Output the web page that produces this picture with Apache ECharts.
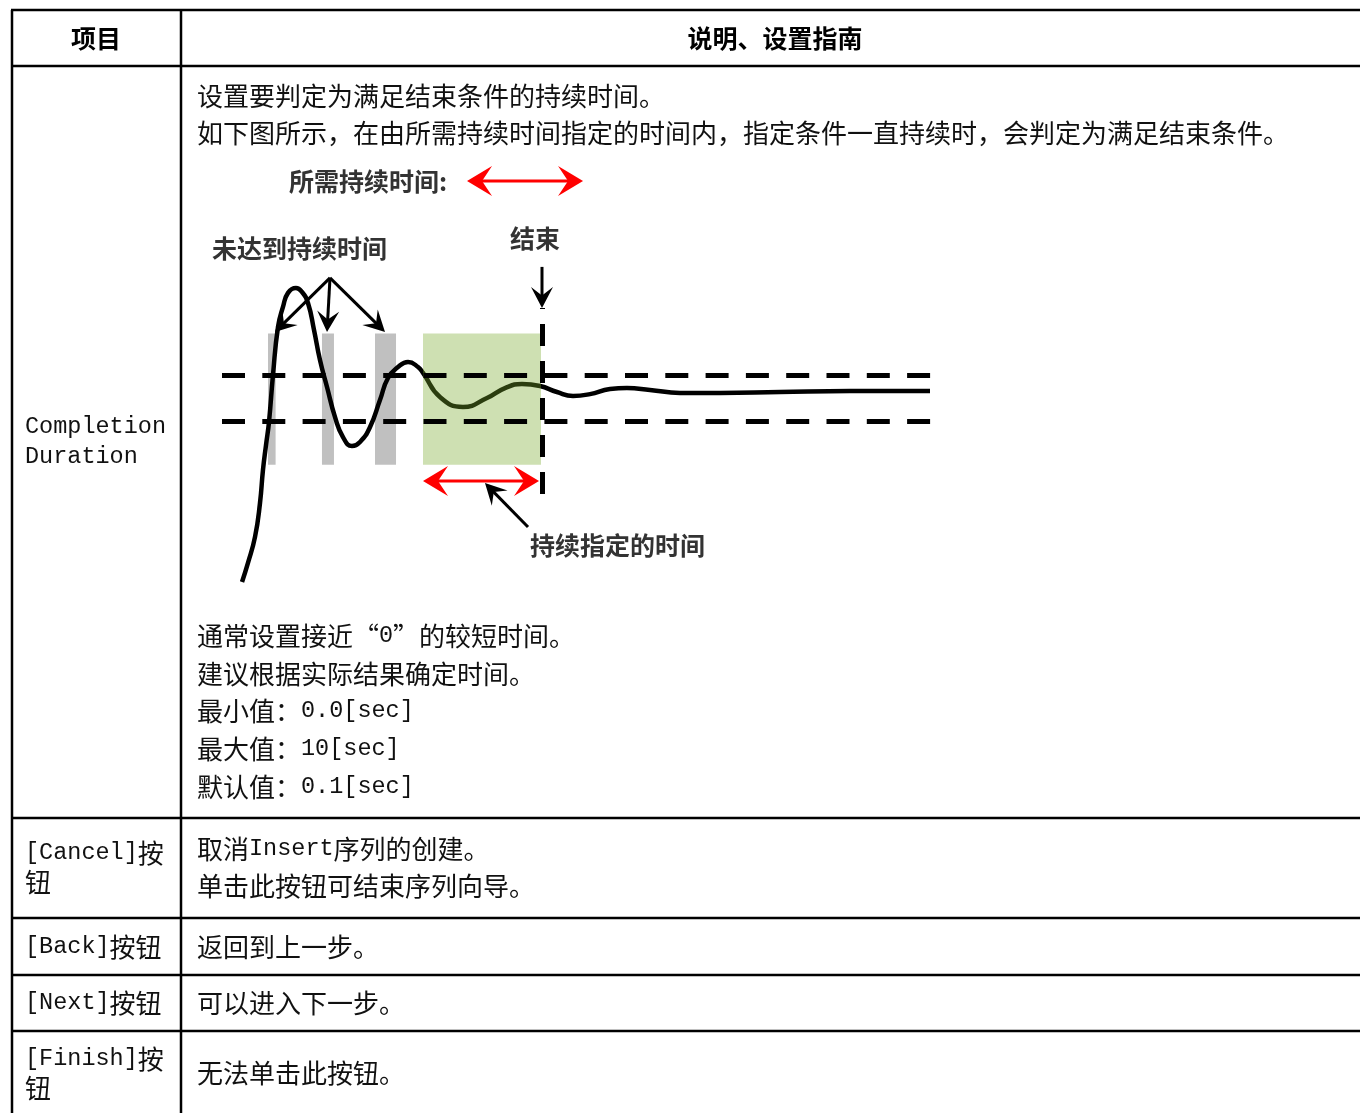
<!DOCTYPE html>
<html><head><meta charset="utf-8">
<script src="https://cdn.jsdelivr.net/npm/echarts/dist/echarts.min.js"></script>
<style>html,body{margin:0;padding:0;background:#fff}#c{width:1360px;height:1113px}</style>
</head><body><div id="c"></div>
<script>
// ---------- table text ----------
const headerCols = ['项目', '说明、设置指南'];
const itemNames = [['Completion', 'Duration'], ['[Cancel]按', '钮'], ['[Back]按钮'], ['[Next]按钮'], ['[Finish]按', '钮']];
const descTop = ['设置要判定为满足结束条件的持续时间。', '如下图所示，在由所需持续时间指定的时间内，指定条件一直持续时，会判定为满足结束条件。'];
const descBottom = ['通常设置接近“0”的较短时间。', '建议根据实际结果确定时间。', '最小值：0.0[sec]', '最大值：10[sec]', '默认值：0.1[sec]'];
const descCancel = ['取消Insert序列的创建。', '单击此按钮可结束序列向导。'];
const descBack = ['返回到上一步。'];
const descNext = ['可以进入下一步。'];
const descFinish = ['无法单击此按钮。'];
const diagramLabels = ['所需持续时间:', '未达到持续时间', '结束', '持续指定的时间'];

// ---------- diagram data (time units, signal units; target = 1.0) ----------
const curveT = [2.82, 3.66, 4.65, 5.35, 5.77, 6.20, 6.62, 7.18, 7.89, 8.59, 9.30, 10.42, 11.27, 12.11, 12.96, 13.80, 14.79, 15.92, 17.04, 18.31, 19.44, 20.85, 22.25, 23.38, 24.79, 26.20, 27.61, 28.31, 30.70, 33.94, 37.32, 39.86, 42.25, 44.79, 47.18, 49.44, 51.83, 54.65, 57.04, 60.28, 64.51, 70.14, 78.59, 88.45, 99.72];
const curveV = [0.200, 0.283, 0.396, 0.543, 0.687, 0.796, 0.896, 1.100, 1.309, 1.396, 1.457, 1.478, 1.461, 1.413, 1.296, 1.165, 1.048, 0.917, 0.830, 0.791, 0.809, 0.874, 0.991, 1.087, 1.135, 1.157, 1.135, 1.109, 1.004, 0.961, 1.000, 1.043, 1.061, 1.052, 1.026, 1.009, 1.017, 1.039, 1.043, 1.035, 1.022, 1.022, 1.026, 1.030, 1.030];
const bandLevels = [1.10, 0.90];
const shadeRangeV = [0.71, 1.28];
const notReachedSpans = [[6.48, 7.55], [14.08, 15.77], [21.55, 24.51]];
const holdSpan = [28.31, 44.93];
const endTime = 45.07;
const endLineV = [0.583, 1.391];
const redArrows = [[34.51, 1.943, 50.85, 1.943], [28.31, 0.639, 44.65, 0.639]];
const blackArrows = [[15.21, 1.522, 7.46, 1.287], [15.21, 1.522, 14.79, 1.287], [15.21, 1.522, 22.96, 1.287], [45.07, 1.570, 45.07, 1.391], [43.10, 0.439, 37.04, 0.630]];

// ---------- helpers ----------
const CJK = 'Noto Sans CJK SC';
function richStr(s) {
  let out = '', cur = null, buf = '';
  for (const ch of s) {
    const t = ch.charCodeAt(0) < 128 ? 'a' : 'c';
    if (t !== cur) { if (buf) out += '{' + cur + '|' + buf + '}'; cur = t; buf = ''; }
    buf += ch;
  }
  if (buf) out += '{' + cur + '|' + buf + '}';
  return out;
}
const richStyles = {
  c: { fontFamily: CJK, fontSize: 26, lineHeight: 38, fill: '#111' },
  a: { fontFamily: 'Liberation Mono', fontSize: 23.5, lineHeight: 38, fill: '#111' }
};
function txt(s, x, y) {
  return { type: 'text', x: x, y: y, silent: true,
    style: { text: richStr(s), rich: richStyles, verticalAlign: 'middle', align: 'left' } };
}
function boldTxt(s, x, y, align, size, color) {
  return { type: 'text', x: x, y: y, silent: true,
    style: { text: s, fontFamily: CJK, fontWeight: 'bold', fontSize: size, fill: color, verticalAlign: 'middle', align: align } };
}

const graphics = [];
[10, 66, 818, 918, 975, 1031].forEach(y => graphics.push({ type: 'line', silent: true, shape: { x1: 11, y1: y, x2: 1360, y2: y }, style: { stroke: '#000', lineWidth: 2.5 } }));
[12, 181].forEach(x => graphics.push({ type: 'line', silent: true, shape: { x1: x, y1: 10, x2: x, y2: 1113 }, style: { stroke: '#000', lineWidth: 2.5 } }));
graphics.push(boldTxt(headerCols[0], 96, 38, 'center', 25, '#000'));
graphics.push(boldTxt(headerCols[1], 775, 38, 'center', 25, '#000'));
const itemY = [[427, 457], [853, 882], [947], [1003], [1059, 1088]];
itemNames.forEach((lines, i) => lines.forEach((s, j) => graphics.push(txt(s, 25, itemY[i][j]))));
[96, 133.5].forEach((y, i) => graphics.push(txt(descTop[i], 197, y)));
[636, 674, 711, 749, 787].forEach((y, i) => graphics.push(txt(descBottom[i], 197, y)));
[849, 886].forEach((y, i) => graphics.push(txt(descCancel[i], 197, y)));
graphics.push(txt(descBack[0], 197, 947));
graphics.push(txt(descNext[0], 197, 1003));
graphics.push(txt(descFinish[0], 197, 1073));
graphics.push(boldTxt(diagramLabels[0], 289, 181, 'left', 25, '#333'));
graphics.push(boldTxt(diagramLabels[1], 212, 248, 'left', 25, '#333'));
graphics.push(boldTxt(diagramLabels[2], 510, 238, 'left', 25, '#333'));
graphics.push(boldTxt(diagramLabels[3], 530, 545, 'left', 25, '#333'));

function headPts(tip, d, L, W, notch) {
  const n = [-d[1], d[0]];
  const b = [tip[0] - d[0] * L, tip[1] - d[1] * L];
  return [tip, [b[0] + n[0] * W, b[1] + n[1] * W], [tip[0] - d[0] * L * notch, tip[1] - d[1] * L * notch], [b[0] - n[0] * W, b[1] - n[1] * W]];
}
function rectItem(color) {
  return function (params, api) {
    const a = api.coord([api.value(0), api.value(3)]);
    const b = api.coord([api.value(2), api.value(1)]);
    return { type: 'rect', shape: { x: a[0], y: a[1], width: b[0] - a[0], height: b[1] - a[1] }, style: { fill: color } };
  };
}

const arrowData = redArrows.map(a => a.concat([1])).concat(blackArrows.map(a => a.concat([0])));

const chart = echarts.init(document.getElementById('c'));
chart.setOption({
  animation: false,
  backgroundColor: '#fff',
  grid: { left: 222, top: 168, width: 710, height: 460 },
  xAxis: { type: 'value', min: 0, max: 100, show: false },
  yAxis: { type: 'value', min: 0, max: 2, show: false },
  graphic: graphics,
  series: [
    { type: 'custom', z: 1, silent: true, renderItem: rectItem('#c0c0c0'),
      data: notReachedSpans.map(s => [s[0], shadeRangeV[0], s[1], shadeRangeV[1]]) },
    { type: 'line', data: [], z: 2, silent: true,
      markLine: { silent: true, symbol: 'none', label: { show: false },
        lineStyle: { color: '#000', width: 5, type: [23, 17.3] },
        data: bandLevels.map(v => ({ yAxis: v })) } },
    { type: 'line', z: 3, silent: true, smooth: 0.5, symbol: 'none',
      lineStyle: { color: '#000', width: 4.5 },
      data: curveT.map((t, i) => [t, curveV[i]]) },
    { type: 'custom', z: 4, silent: true, renderItem: rectItem('rgba(120,170,42,0.36)'),
      data: [[holdSpan[0], shadeRangeV[0], holdSpan[1], shadeRangeV[1]]] },
    { type: 'line', data: [], z: 5, silent: true,
      markLine: { silent: true, symbol: 'none', label: { show: false },
        lineStyle: { color: '#000', width: 5, type: [22, 15] },
        data: [[{ coord: [endTime, endLineV[0]] }, { coord: [endTime, endLineV[1]] }]] } },
    { type: 'custom', z: 6, silent: true, data: arrowData,
      renderItem: function (params, api) {
        const p1 = api.coord([api.value(0), api.value(1)]);
        const p2 = api.coord([api.value(2), api.value(3)]);
        const red = api.value(4) === 1;
        const dx = p2[0] - p1[0], dy = p2[1] - p1[1];
        const len = Math.sqrt(dx * dx + dy * dy);
        const d = [dx / len, dy / len];
        const L = red ? 25 : 21, W = red ? 15 : 11, notch = 0.6;
        const color = red ? '#ff0000' : '#000';
        const children = [];
        const e = [p2[0] - d[0] * L * 0.5, p2[1] - d[1] * L * 0.5];
        const s = red ? [p1[0] + d[0] * L * 0.5, p1[1] + d[1] * L * 0.5] : p1;
        children.push({ type: 'line', shape: { x1: s[0], y1: s[1], x2: e[0], y2: e[1] }, style: { stroke: color, lineWidth: 3 } });
        children.push({ type: 'polygon', shape: { points: headPts(p2, d, L, W, notch) }, style: { fill: color } });
        if (red) children.push({ type: 'polygon', shape: { points: headPts(p1, [-d[0], -d[1]], L, W, notch) }, style: { fill: color } });
        return { type: 'group', children: children };
      } }
  ]
});
</script></body></html>
